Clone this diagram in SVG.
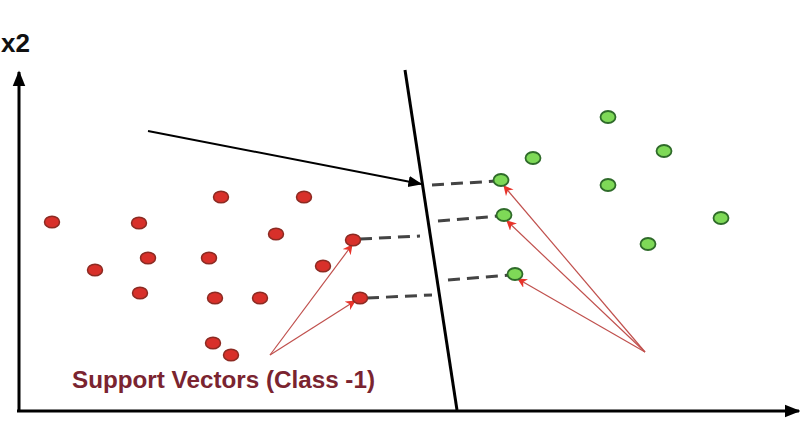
<svg xmlns="http://www.w3.org/2000/svg" width="800" height="424" viewBox="0 0 800 424">
<style>
.red{fill:#d8302a;stroke:#8c2a22;stroke-width:1.5}
.grn{fill:#7ed957;stroke:#2f6b2a;stroke-width:1.8}
.dash{stroke:#444;stroke-width:3;stroke-dasharray:12 7;fill:none}
.pt{stroke:#c0504d;stroke-width:1.2;fill:none;marker-end:url(#ra)}
.ax{stroke:#000;stroke-width:3;fill:none}
</style>
<defs>
<marker id="ra" viewBox="0 0 10 10" refX="9" refY="5" markerWidth="10" markerHeight="10" markerUnits="userSpaceOnUse" orient="auto"><path d="M0,0 L10,5 L0,10 L3,5 z" fill="#e8332a"/></marker>
<marker id="ba" viewBox="0 0 10 10" refX="9" refY="5" markerWidth="14" markerHeight="14" markerUnits="userSpaceOnUse" orient="auto"><path d="M0,1 L10,5 L0,9 z" fill="#000"/></marker>
<marker id="axa" viewBox="0 0 10 10" refX="9" refY="5" markerWidth="16" markerHeight="16" markerUnits="userSpaceOnUse" orient="auto"><path d="M0,1 L10,5 L0,9 z" fill="#000"/></marker>
</defs>
<g id="axes">
<line class="ax" x1="19" y1="411" x2="19" y2="72" marker-end="url(#axa)"/>
<line class="ax" x1="17" y1="411" x2="799" y2="411" marker-end="url(#axa)"/>
<text x="1" y="52" font-family="Liberation Sans, Arial, sans-serif" font-weight="bold" font-size="26" fill="#111">x2</text>
</g>
<g id="hyperplane"><line x1="405" y1="70" x2="457" y2="410" stroke="#000" stroke-width="3"/></g>
<g id="connectors">
<line x1="148" y1="131" x2="421" y2="184" stroke="#000" stroke-width="2" marker-end="url(#ba)"/>
<line class="dash" x1="432" y1="185" x2="496" y2="181"/>
<line class="dash" x1="438" y1="221" x2="499" y2="216"/>
<line class="dash" x1="448" y1="280" x2="510" y2="275"/>
<line class="dash" x1="360" y1="239" x2="420" y2="236"/>
<line class="dash" x1="367" y1="298" x2="432" y2="295"/>
<line class="pt" x1="270" y1="355" x2="352" y2="245"/>
<line class="pt" x1="270" y1="355" x2="355" y2="301"/>
<line class="pt" x1="645" y1="352" x2="504" y2="186"/>
<line class="pt" x1="645" y1="352" x2="507" y2="221"/>
<line class="pt" x1="645" y1="352" x2="518" y2="279"/>
</g>
<g id="class-neg">
<ellipse class="red" cx="52" cy="222" rx="7.5" ry="5.8"/>
<ellipse class="red" cx="139" cy="223" rx="7.5" ry="5.8"/>
<ellipse class="red" cx="221" cy="197" rx="7.5" ry="5.8"/>
<ellipse class="red" cx="304" cy="197" rx="7.5" ry="5.8"/>
<ellipse class="red" cx="276" cy="234" rx="7.5" ry="5.8"/>
<ellipse class="red" cx="148" cy="258" rx="7.5" ry="5.8"/>
<ellipse class="red" cx="209" cy="258" rx="7.5" ry="5.8"/>
<ellipse class="red" cx="95" cy="270" rx="7.5" ry="5.8"/>
<ellipse class="red" cx="323" cy="266" rx="7.5" ry="5.8"/>
<ellipse class="red" cx="140" cy="293" rx="7.5" ry="5.8"/>
<ellipse class="red" cx="215" cy="298" rx="7.5" ry="5.8"/>
<ellipse class="red" cx="260" cy="298" rx="7.5" ry="5.8"/>
<ellipse class="red" cx="213" cy="343" rx="7.5" ry="5.8"/>
<ellipse class="red" cx="231" cy="355" rx="7.5" ry="5.8"/>
</g>
<g id="sv-neg">
<ellipse class="red" cx="353" cy="240" rx="7.5" ry="5.8"/>
<ellipse class="red" cx="360" cy="298" rx="7.5" ry="5.8"/>
</g>
<g id="class-pos">
<ellipse class="grn" cx="608" cy="117" rx="7.5" ry="6"/>
<ellipse class="grn" cx="533" cy="158" rx="7.5" ry="6"/>
<ellipse class="grn" cx="664" cy="151" rx="7.5" ry="6"/>
<ellipse class="grn" cx="608" cy="185" rx="7.5" ry="6"/>
<ellipse class="grn" cx="721" cy="218" rx="7.5" ry="6"/>
<ellipse class="grn" cx="648" cy="244" rx="7.5" ry="6"/>
</g>
<g id="sv-pos">
<ellipse class="grn" cx="501" cy="180" rx="7.5" ry="6"/>
<ellipse class="grn" cx="504" cy="215" rx="7.5" ry="6"/>
<ellipse class="grn" cx="515" cy="274" rx="7.5" ry="6"/>
</g>
<g id="label">
<text x="72" y="388" font-family="Liberation Sans, Arial, sans-serif" font-weight="bold" font-size="23" fill="#7a2430" textLength="303" lengthAdjust="spacingAndGlyphs">Support Vectors (Class -1)</text>
</g>
</svg>
